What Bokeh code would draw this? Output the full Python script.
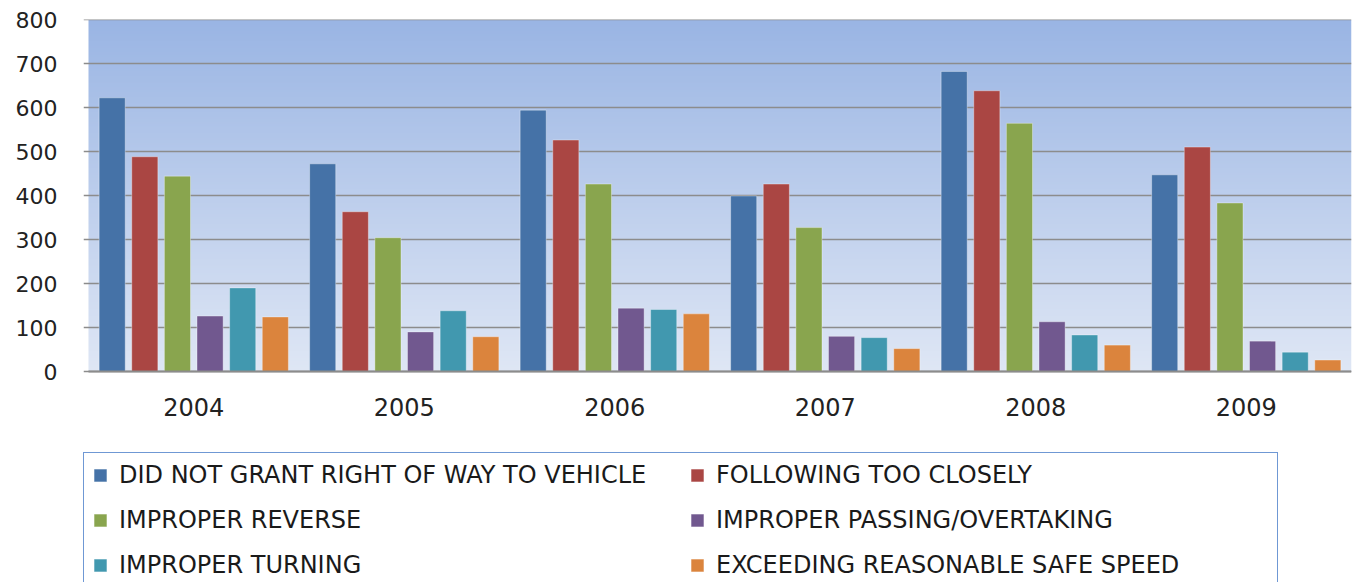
import numpy as np
from bokeh.plotting import figure
from bokeh.models import Range1d, FixedTicker, Legend, LegendItem
from bokeh.embed import file_html
from bokeh.resources import INLINE

years = ["2004", "2005", "2006", "2007", "2008", "2009"]
series_names = [
    "DID NOT GRANT RIGHT OF WAY TO VEHICLE",
    "FOLLOWING TOO CLOSELY",
    "IMPROPER REVERSE",
    "IMPROPER PASSING/OVERTAKING",
    "IMPROPER TURNING",
    "EXCEEDING REASONABLE SAFE SPEED",
]
did_not_grant = [623, 473, 595, 400, 683, 448]
following_too_closely = [489, 364, 527, 427, 639, 511]
improper_reverse = [445, 305, 427, 328, 565, 384]
improper_passing = [127, 91, 145, 81, 114, 70]
improper_turning = [191, 139, 142, 78, 84, 45]
exceeding_speed = [125, 80, 132, 53, 61, 27]
y_ticks = [0, 100, 200, 300, 400, 500, 600, 700, 800]

series_values = [did_not_grant, following_too_closely, improper_reverse,
                 improper_passing, improper_turning, exceeding_speed]
colors = ["#4572a7", "#aa4643", "#89a54e", "#71588f", "#4198af", "#db843d"]

n_cat = len(years)
frame_w = 1268
frame_h = 563
px_per_cat = 210.5
px_per_unit = 0.44
x_start = -5.0 / px_per_cat
y_end = 801.0
y_start = y_end - frame_h / px_per_unit

p = figure(frame_width=frame_w, frame_height=frame_h, output_backend="svg", toolbar_location=None,
           x_range=Range1d(x_start, n_cat), y_range=Range1d(y_start, y_end),
           min_border_left=83, min_border_right=4, min_border_top=19, min_border_bottom=0)
p.outline_line_color = None
p.background_fill_color = "white"
p.border_fill_color = "white"

# gradient plot-area background
n = 200
t = np.linspace(0.0, 1.0, n)
bottom = np.array([223, 231, 245], dtype=float)
top = np.array([154, 181, 228], dtype=float)
img = np.empty((n, 1), dtype=np.uint32)
view = img.view(dtype=np.uint8).reshape((n, 1, 4))
for k in range(3):
    view[:, 0, k] = (bottom[k] + (top[k] - bottom[k]) * t).astype(np.uint8)
view[:, 0, 3] = 255
p.image_rgba(image=[img], x=0, y=0, dw=n_cat, dh=y_ticks[-1], level="image")

pitch = 0.155
bw = 0.124
items = []
for j, (name, vals, col) in enumerate(zip(series_names, series_values, colors)):
    xs = [i + 0.5 + (j - 2.5) * pitch for i in range(n_cat)]
    r = p.vbar(x=xs, top=vals, width=bw, bottom=0, fill_color=col,
               line_color="white", line_alpha=0.35, line_width=1)
    items.append(LegendItem(label=name, renderers=[r]))

# grid
p.xgrid.grid_line_color = None
p.ygrid.grid_line_color = "#8c8c8c"
p.ygrid.grid_line_width = 1.5
p.ygrid.ticker = FixedTicker(ticks=y_ticks)

# y axis
p.yaxis.ticker = FixedTicker(ticks=y_ticks)
p.yaxis.axis_line_color = None
p.yaxis.major_tick_line_color = None
p.yaxis.minor_tick_line_color = None
p.yaxis.major_label_text_font = "DejaVu Sans"
p.yaxis.major_label_text_font_size = "22px"
p.yaxis.major_label_text_color = "#222222"
p.yaxis.major_label_standoff = 20

# x axis, pinned at y = 0
p.xaxis.fixed_location = 0
p.xaxis.bounds = (0, n_cat)
p.xaxis.ticker = FixedTicker(ticks=[i + 0.5 for i in range(n_cat)])
p.xaxis.major_label_overrides = {i + 0.5: y for i, y in enumerate(years)}
p.xaxis.axis_line_color = "#8c8c8c"
p.xaxis.axis_line_width = 2
p.xaxis.major_tick_line_color = None
p.xaxis.minor_tick_line_color = None
p.xaxis.major_label_text_font = "DejaVu Sans"
p.xaxis.major_label_text_font_size = "24px"
p.xaxis.major_label_text_color = "#222222"
p.xaxis.major_label_standoff = 20

legend = Legend(items=items, orientation="horizontal", ncols=2,
                location=(0, -6), margin=0, padding=8,
                glyph_width=16, glyph_height=16, label_standoff=11,
                label_width=553, label_height=28, spacing=17,
                label_text_font="DejaVu Sans", label_text_font_size="24px",
                label_text_color="#1a1a1a",
                border_line_color="#6f98d4", border_line_width=1.5,
                border_line_alpha=1.0,
                background_fill_color="white", background_fill_alpha=1.0)
p.add_layout(legend, "center")

open("out.html", "w").write(file_html(p, INLINE))
